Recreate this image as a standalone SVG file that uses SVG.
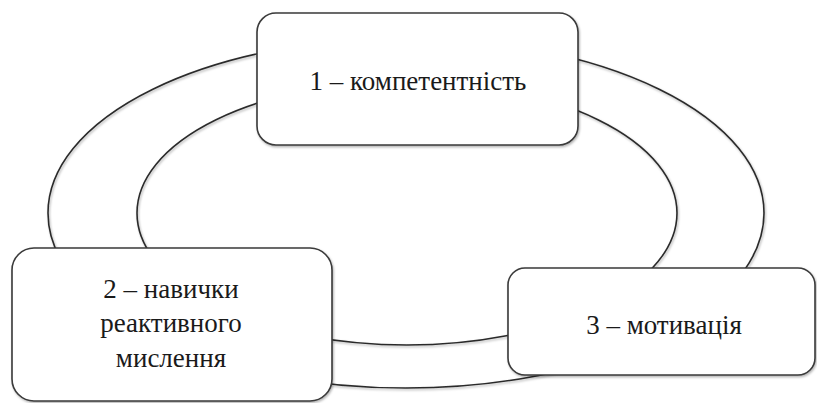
<svg xmlns="http://www.w3.org/2000/svg" width="817" height="403" viewBox="0 0 817 403">
<defs>
<filter id="sh" x="-10%" y="-10%" width="120%" height="120%">
<feDropShadow dx="1" dy="1.5" stdDeviation="1" flood-color="#000" flood-opacity="0.3"/>
</filter>
<style>
.ring{fill:none;stroke:#2b2b2b;stroke-width:1.6;filter:url(#sh)}
.box{fill:#fff;stroke:#3a3a3a;stroke-width:1.6;filter:url(#sh)}
.lbl{font-family:"Liberation Serif","DejaVu Serif",serif;font-size:27px;fill:#1a1a1a;text-anchor:middle}
</style>
</defs>
<rect width="817" height="403" fill="#fff"/>
<g id="connectors">
<ellipse class="ring" cx="406" cy="213" rx="358" ry="175"/>
<ellipse class="ring" cx="407" cy="213" rx="270" ry="132"/>
</g>
<g id="node1">
<rect class="box" x="257" y="13" width="321" height="132" rx="19" ry="19"/>
<text class="lbl" x="418" y="90">1 – компетентність</text>
</g>
<g id="node2">
<rect class="box" x="12" y="248" width="320" height="153" rx="22" ry="22"/>
<text class="lbl" x="171" y="298">2 – навички</text>
<text class="lbl" x="171" y="332">реактивного</text>
<text class="lbl" x="171" y="367">мислення</text>
</g>
<g id="node3">
<rect class="box" x="508" y="268" width="307" height="107" rx="17" ry="17"/>
<text class="lbl" x="664" y="334">3 – мотивація</text>
</g>
</svg>
